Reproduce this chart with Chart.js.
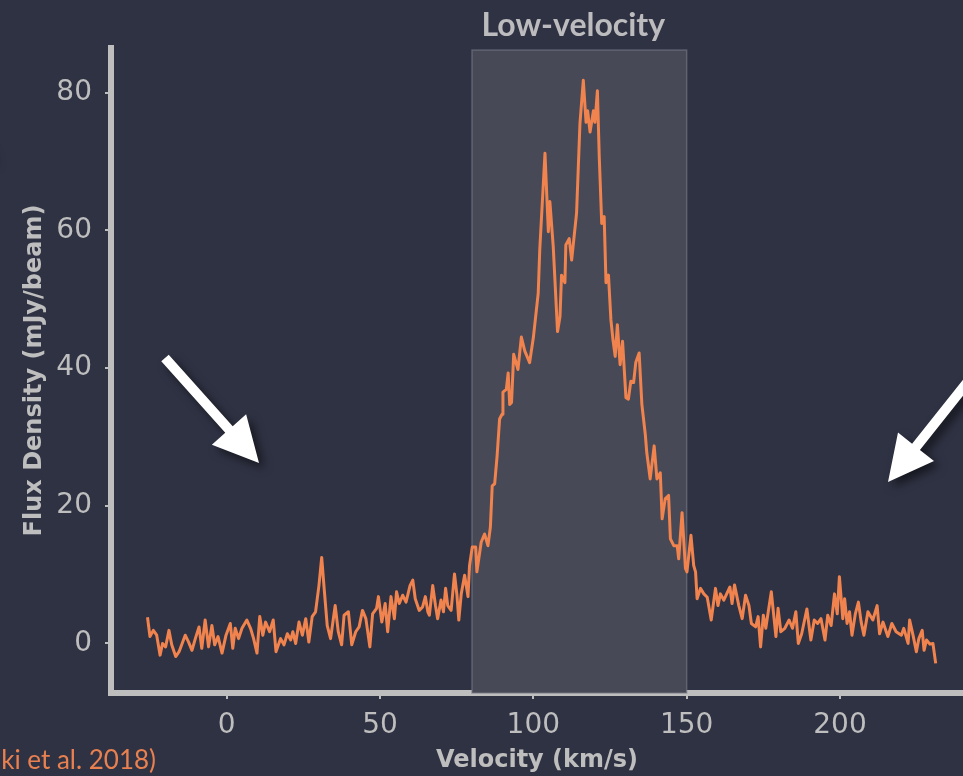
<!DOCTYPE html>
<html>
<head>
<meta charset="utf-8">
<script src="https://cdn.jsdelivr.net/npm/chart.js@4"></script>
<style>
  html, body { margin: 0; padding: 0; background: #2f3243; overflow: hidden; }
  #spec { display: block; }
</style>
</head>
<body>
<canvas id="spec" width="963" height="776"></canvas>
<script>
// spectrum (km/s, mJy/beam)
const velocity = [
  -25.8, -25.0, -23.9, -22.8, -21.7, -20.9, -19.9, -18.8, -17.9, -16.6, -15.5, -13.5, -12.4, -11.3, -10.2,
  -9.0, -8.1, -7.0, -5.9, -4.8, -3.9, -2.8, -1.5, -0.2, 1.2, 2.0, 2.8, 3.9, 5.0, 6.6, 7.8, 8.8, 9.9,
  10.8, 11.8, 12.7, 14.0, 15.2, 16.1, 17.6, 18.7, 19.8, 20.9, 21.6, 22.5, 23.6, 24.7, 25.8, 26.8, 27.9,
  29.0, 30.1, 31.0, 31.8, 32.8, 33.9, 35.4, 36.4, 37.5, 38.3, 39.7, 40.8, 42.1, 43.2, 44.3, 45.4, 46.7,
  47.6, 48.9, 49.5, 50.6, 51.7, 52.5, 53.6, 54.7, 55.4, 56.3, 57.4, 58.5, 59.8, 60.7, 61.5, 62.8, 63.9,
  64.8, 65.6, 66.1, 67.2, 68.1, 68.8, 69.9, 70.7, 71.4, 72.1, 73.2, 74.3, 75.1, 75.7, 76.5, 77.6, 78.7,
  79.2, 80.1, 81.2, 81.6, 83.0, 84.1, 85.2, 86.0, 86.6, 87.4, 88.2, 89.0, 89.8, 90.1, 91.2, 91.8, 92.3,
  92.9, 93.6, 95.0, 96.1, 97.2, 98.8, 100.0, 101.6, 102.1, 103.8, 104.9, 105.4, 106.5, 107.9, 108.7,
  109.2, 110.3, 110.6, 111.7, 112.5, 114.1, 115.2, 116.3, 117.2, 117.7, 118.5, 119.6, 120.1, 120.9,
  121.5, 122.3, 123.1, 123.7, 124.5, 125.3, 126.0, 126.7, 127.4, 128.3, 129.1, 130.2, 131.0, 131.8,
  132.7, 133.4, 134.5, 135.4, 136.5, 137.0, 138.1, 139.4, 140.3, 141.4, 142.0, 143.0, 144.1, 144.7,
  145.8, 146.9, 147.4, 148.5, 149.6, 150.1, 151.4, 152.3, 152.9, 153.4, 154.5, 155.6, 156.7, 158.0,
  159.4, 160.2, 161.0, 162.1, 164.1, 164.8, 165.6, 167.0, 168.1, 169.2, 170.3, 171.1, 172.5, 173.3,
  174.1, 175.0, 175.8, 176.5, 177.6, 178.5, 179.1, 179.8, 180.7, 182.0, 183.4, 184.5, 185.6, 186.4,
  187.5, 189.2, 190.5, 191.6, 192.7, 193.8, 195.1, 196.0, 197.1, 198.2, 199.1, 199.8, 200.9, 201.5,
  202.3, 203.1, 203.9, 205.0, 206.0, 206.9, 207.8, 209.1, 210.7, 212.1, 212.9, 214.0, 215.6, 216.9,
  218.3, 220.0, 220.8, 222.2, 222.7, 223.8, 224.9, 225.7, 226.8, 227.4, 228.2, 229.3, 230.3, 231.2
];
const flux = [
  3.8, 1.0, 1.9, 1.2, -1.7, 0.0, -0.5, 1.9, -0.2, -1.9, -1.2, 1.2, 0.2, -1.0, 0.7,
  2.4, -0.7, 3.4, -0.5, 2.6, -0.2, 1.0, -1.4, 1.2, 2.9, -0.7, 2.2, 0.7, 2.2, 3.4, 2.2, 0.7, -1.4,
  3.9, 1.2, 3.1, 1.7, 3.4, -1.2, 0.7, -0.2, 1.4, 0.5, 1.7, 0.0, 3.1, 1.2, 3.6, 0.2, 3.9,
  4.6, 8.4, 12.5, 8.0, 2.6, 0.7, 5.5, 1.7, -0.2, 4.1, 4.6, -0.2, 1.7, 2.4, 4.8, 3.6, -0.5,
  4.3, 5.1, 6.8, 3.1, 5.8, 1.7, 6.8, 3.6, 7.5, 5.8, 7.0, 6.0, 8.4, 9.2, 6.5, 4.8, 5.3,
  6.8, 4.6, 4.1, 8.4, 5.5, 3.6, 6.3, 4.6, 8.0, 5.5, 4.8, 10.1, 7.0, 3.4, 7.2, 9.9, 6.8,
  11.3, 14.0, 14.0, 10.4, 14.7, 15.9, 14.2, 16.9, 22.9, 23.2, 27.3, 32.6, 33.3, 36.5, 36.9, 39.3, 34.7,
  35.0, 42.0, 39.8, 44.5, 42.5, 40.8, 44.4, 50.9, 57.2, 71.2, 59.8, 64.2, 57.6, 45.3, 47.5,
  53.5, 52.4, 57.9, 58.8, 55.7, 62.5, 75.5, 81.8, 75.7, 77.4, 74.3, 77.4, 75.7, 80.3,
  70.7, 61.0, 62.0, 52.4, 53.5, 47.0, 44.0, 41.7, 46.3, 40.5, 43.9, 35.7, 35.5, 38.1,
  37.9, 40.8, 42.2, 34.7, 30.4, 27.7, 23.9, 28.7, 23.9, 24.8, 18.1, 21.0, 21.5, 15.2,
  14.2, 14.2, 12.3, 19.0, 10.9, 10.4, 15.7, 11.3, 10.4, 6.5, 8.0, 7.2, 6.7, 3.4,
  8.0, 5.5, 7.2, 6.3, 8.2, 5.8, 8.5, 5.5, 3.6, 7.0, 5.5, 2.9, 2.4, 3.9,
  -0.5, 4.1, 2.2, 4.3, 7.5, 3.6, 1.0, 5.1, 1.7, 2.2, 3.4, 2.2, 4.6, 0.0,
  1.4, 5.0, 0.5, 3.4, 2.9, 3.6, 0.5, 4.1, 2.6, 7.2, 4.3, 9.7, 3.6, 6.5,
  2.9, 4.6, 1.2, 4.3, 6.0, 3.1, 1.2, 4.6, 3.4, 5.5, 1.4, 3.1, 1.0, 2.9,
  1.7, 1.2, 2.2, 0.0, 3.4, 1.2, -1.2, 0.7, 1.9, -1.0, 0.5, -0.1, 0.0, -2.9
];

const xTicks = [0, 50, 100, 150, 200];
const yTicks = [0, 20, 40, 60, 80];
const xRange = [-37.7, 240.1];
const yRange = [-7.2, 86.5];

// low-velocity window
const bandVel = [80, 150];
const bandTop = 86.2;
const bandLabel = 'Low-velocity';
const citation = 'ki et al. 2018)';

const bg = '#2f3243';
const axisGrey = 'rgb(190,190,190)';
const orange = 'rgb(240,131,78)';

const bgPlugin = {
  id: 'bg',
  beforeDraw(chart) {
    const ctx = chart.ctx;
    ctx.save();
    ctx.fillStyle = bg;
    ctx.fillRect(0, 0, chart.width, chart.height);
    ctx.restore();
  }
};

const bandPlugin = {
  id: 'band',
  beforeDatasetsDraw(chart) {
    const {ctx, chartArea, scales: {x, y}} = chart;
    const x0 = x.getPixelForValue(bandVel[0]);
    const x1 = x.getPixelForValue(bandVel[1]);
    const y0 = y.getPixelForValue(bandTop);
    ctx.save();
    ctx.fillStyle = 'rgb(71,73,86)';
    ctx.fillRect(x0, y0, x1 - x0, chartArea.bottom - y0);
    ctx.strokeStyle = 'rgba(120,122,135,0.6)';
    ctx.lineWidth = 1.5;
    ctx.strokeRect(x0, y0, x1 - x0, chartArea.bottom - y0);
    ctx.restore();
  }
};

function arrow(ctx, x1, y1, x2, y2, shaft, headL, headW) {
  const ang = Math.atan2(y2 - y1, x2 - x1);
  const len = Math.hypot(x2 - x1, y2 - y1);
  ctx.save();
  ctx.translate(x1, y1);
  ctx.rotate(ang);
  ctx.beginPath();
  ctx.moveTo(0, -shaft / 2);
  ctx.lineTo(len - headL, -shaft / 2);
  ctx.lineTo(len - headL, -headW / 2);
  ctx.lineTo(len, 0);
  ctx.lineTo(len - headL, headW / 2);
  ctx.lineTo(len - headL, shaft / 2);
  ctx.lineTo(0, shaft / 2);
  ctx.closePath();
  ctx.fill();
  ctx.restore();
}

const overlayPlugin = {
  id: 'overlay',
  afterDraw(chart) {
    const {ctx, scales: {x}} = chart;
    ctx.save();
    // band label
    ctx.fillStyle = 'rgb(188,188,190)';
    ctx.font = 'bold 32px Lato';
    ctx.textAlign = 'center';
    ctx.textBaseline = 'middle';
    ctx.fillText(bandLabel, (x.getPixelForValue(bandVel[0]) + x.getPixelForValue(bandVel[1])) / 2 - 6, 26);

    // citation (cut at the left edge)
    ctx.fillStyle = 'rgb(232,128,80)';
    ctx.font = '26px Lato';
    ctx.textAlign = 'right';
    ctx.textBaseline = 'alphabetic';
    ctx.fillText(citation, 156, 769);

    // arrows
    ctx.fillStyle = '#ffffff';
    ctx.shadowColor = 'rgba(0,0,0,0.55)';
    ctx.shadowBlur = 10;
    ctx.shadowOffsetX = 5;
    ctx.shadowOffsetY = 5;
    arrow(ctx, 165, 358, 259, 463, 10, 45, 46);
    arrow(ctx, 985, 360, 888, 482, 10, 45, 46);
    arrow(ctx, -110, 70, -8, 160, 10, 45, 46);
    ctx.restore();
  }
};

new Chart(document.getElementById('spec'), {
  type: 'line',
  data: {
    datasets: [{
      data: velocity.map((v, i) => ({x: v, y: flux[i]})),
      borderColor: orange,
      borderWidth: 3,
      pointRadius: 0,
      tension: 0,
      borderJoinStyle: 'round',
      fill: false
    }]
  },
  options: {
    responsive: false,
    animation: false,
    layout: {padding: {top: 48, right: 0, left: 0, bottom: 0}},
    plugins: {legend: {display: false}, tooltip: {enabled: false}},
    scales: {
      x: {
        type: 'linear',
        min: xRange[0],
        max: xRange[1],
        afterBuildTicks: s => { s.ticks = xTicks.map(v => ({value: v})); },
        afterFit: s => { s.height = 83; },
        grid: {display: true, drawOnChartArea: false, drawTicks: true, tickLength: 6, color: axisGrey, lineWidth: 2},
        border: {display: true, color: axisGrey, width: 6},
        ticks: {color: axisGrey, font: {family: 'DejaVu Sans', size: 28}, padding: 10, maxRotation: 0},
        title: {display: true, text: 'Velocity (km/s)', color: axisGrey,
                font: {family: 'DejaVu Sans', size: 24, weight: 'bold'}, padding: {top: 0, bottom: 1}}
      },
      y: {
        min: yRange[0],
        max: yRange[1],
        afterBuildTicks: s => { s.ticks = yTicks.map(v => ({value: v})); },
        afterFit: s => { s.width = 111; },
        grid: {display: true, drawOnChartArea: false, drawTicks: true, tickLength: 6, color: axisGrey, lineWidth: 2},
        border: {display: true, color: axisGrey, width: 6},
        ticks: {color: axisGrey, font: {family: 'DejaVu Sans', size: 28}, padding: 13},
        title: {display: true, text: 'Flux Density (mJy/beam)', color: axisGrey,
                font: {family: 'DejaVu Sans', size: 24, weight: 'bold'}, padding: {top: 20, bottom: 0}}
      }
    }
  },
  plugins: [bgPlugin, bandPlugin, overlayPlugin]
});
</script>
</body>
</html>
